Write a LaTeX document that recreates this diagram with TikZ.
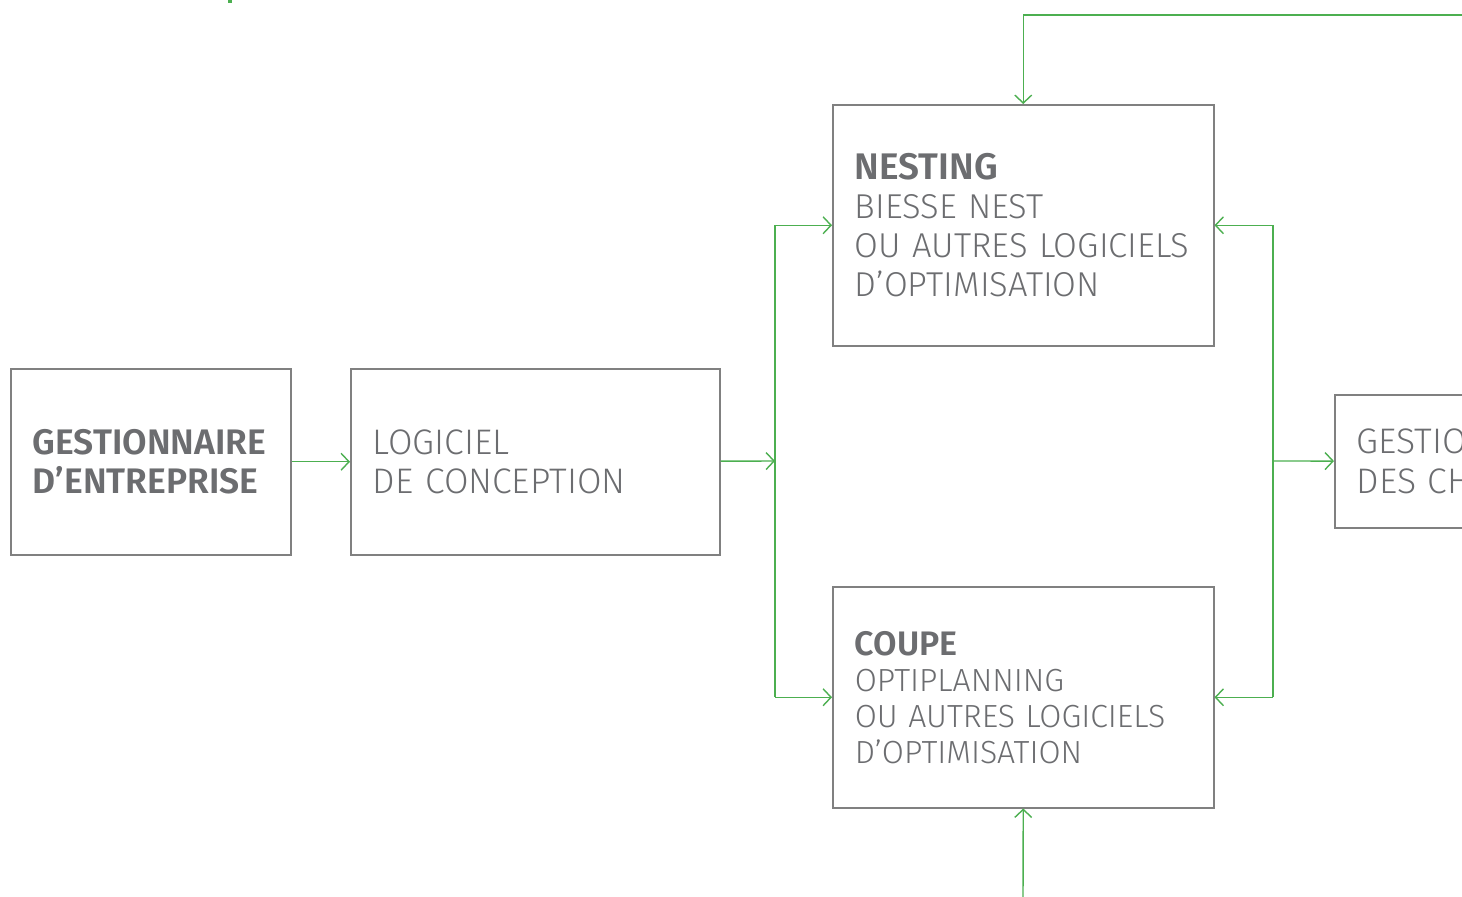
\documentclass[tikz,border=0pt]{standalone}
\usepackage{fontspec}
\setmainfont{Fira Sans}[UprightFont=* Light, BoldFont=* SemiBold, WordSpace=1.25]
\usetikzlibrary{arrows.meta,positioning}
\definecolor{flowgreen}{RGB}{76,175,80}
\definecolor{boxgray}{RGB}{128,128,128}
\definecolor{textgray}{RGB}{108,109,112}
\hyphenpenalty=10000
\tikzset{
  box/.style={draw=boxgray,line width=1.5pt,inner xsep=22pt,inner ysep=0pt,align=left,text=textgray,anchor=north west},
  flow/.style={draw=flowgreen,line width=1.4pt},
  arr/.style={flow,-{Straight Barb[length=8pt,width=17pt,line width=1.4pt]}}
}
\begin{document}
\begin{tikzpicture}[x=1pt,y=-1pt]
    \path[use as bounding box,clip] (0,0) rectangle (1462,897);
    \fill[flowgreen] (228,0) rectangle (232,3);
    % boxes
    \node[box,text width=236pt,minimum height=186pt,font=\fontsize{35.5}{39.5}\selectfont\bfseries] (gest) at (10,368) {GESTIONNAIRE\\D’ENTREPRISE};
    \node[box,text width=325pt,minimum height=186pt,font=\fontsize{35.5}{39.5}\selectfont] (logi) at (350,368) {LOGICIEL\\DE CONCEPTION};
    \node[box,text width=337pt,minimum height=241pt,font=\fontsize{34.5}{39}\selectfont] (nest) at (832,104) {{\fontsize{37}{42}\selectfont\bfseries NESTING}\\BIESSE NEST\\OU AUTRES LOGICIELS\\D’OPTIMISATION};
    \node[box,text width=337pt,minimum height=221pt,font=\fontsize{32}{36}\selectfont] (coupe) at (832,586) {{\fontsize{34}{38}\selectfont\bfseries COUPE}\\OPTIPLANNING\\OU AUTRES LOGICIELS\\D’OPTIMISATION};
    \node[box,text width=276pt,minimum height=133pt,font=\fontsize{35.5}{40}\selectfont] (gesti) at (1334,394) {GESTION\\DES CHANTIERS};
    % connectors
    \coordinate (busl) at (775,461);
    \coordinate (busr) at (1273,461);
    \coordinate (feedtop) at (1470,15);
    \coordinate (feedbot) at (1023,900);
    \draw[arr] (gest) -- (logi);
    \draw[arr] (logi) -- (busl);
    \draw[flow] (busl |- nest.west) -- (busl |- coupe.west);
    \draw[arr] (busl |- nest.west) -- (nest.west);
    \draw[arr] (busl |- coupe.west) -- (coupe.west);
    \draw[flow] (busr |- nest.east) -- (busr |- coupe.east);
    \draw[arr] (busr |- nest.east) -- (nest.east);
    \draw[arr] (busr |- coupe.east) -- (coupe.east);
    \draw[arr] (busr) -- (gesti);
    \draw[arr] (feedtop) -| (nest.north);
    \draw[arr] (feedbot) -- (coupe.south);
\end{tikzpicture}
\end{document}
